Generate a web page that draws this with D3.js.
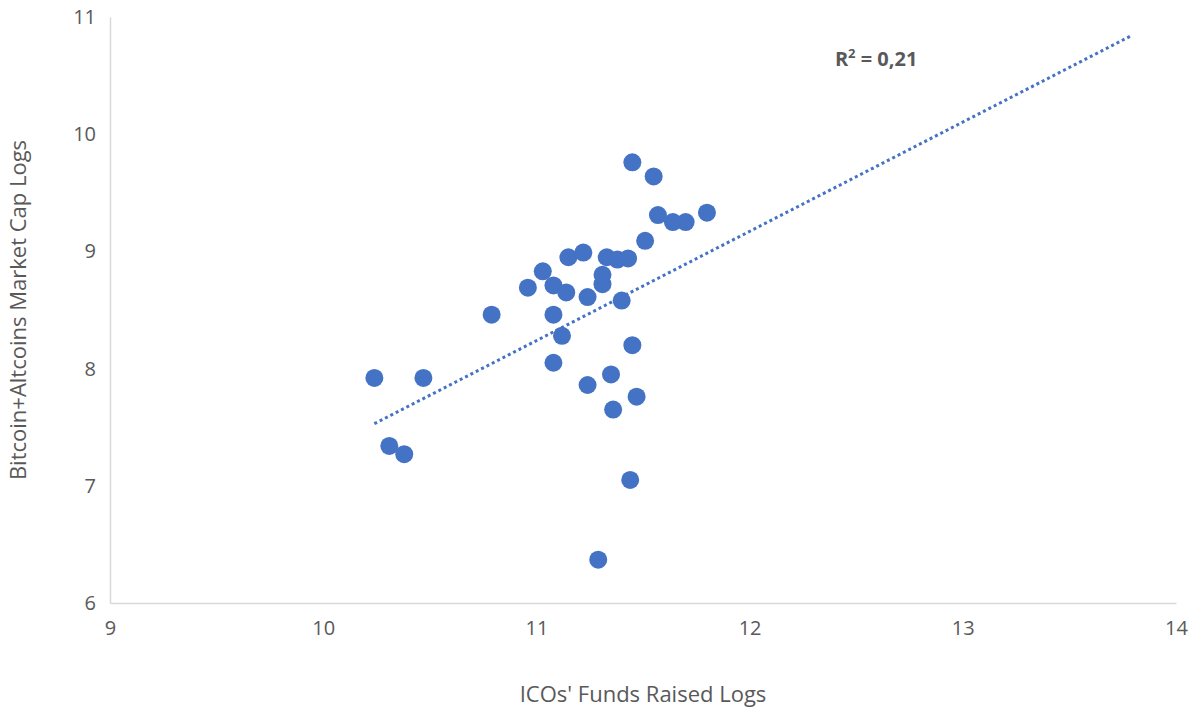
<!DOCTYPE html>
<html><head><meta charset="utf-8">
<script src="https://cdn.jsdelivr.net/npm/d3@7"></script>
<style>body{margin:0;background:#fff}text{font-family:"Open Sans",sans-serif;fill:#595959}</style>
</head><body><svg id="chart"></svg>
<script>
var xVals = [10.24,10.47,10.31,10.38,10.79,10.96,11.03,11.08,11.08,11.14,11.12,11.08,11.15,11.22,11.24,11.24,11.31,11.31,11.33,11.38,11.43,11.40,11.35,11.36,11.45,11.47,11.44,11.29,11.45,11.55,11.51,11.57,11.64,11.70,11.80];
var yVals = [7.92,7.92,7.34,7.27,8.46,8.69,8.83,8.71,8.46,8.65,8.28,8.05,8.95,8.99,8.61,7.86,8.72,8.80,8.95,8.93,8.94,8.58,7.95,7.65,8.20,7.76,7.05,6.37,9.76,9.64,9.09,9.31,9.25,9.25,9.33];
var trendX = [10.24, 13.79];
var trendY = [7.53, 10.84];
var xTicks = [9,10,11,12,13,14];
var yTicks = [6,7,8,9,10,11];

var svgWidth = 1200, svgHeight = 719;
var margin = {top: 17, right: 24, bottom: 116, left: 110};
var chartWidth = svgWidth - margin.left - margin.right;
var chartHeight = svgHeight - margin.top - margin.bottom;

var svg = d3.select("#chart").attr("width", svgWidth).attr("height", svgHeight);
var g = svg.append("g").attr("transform", `translate(${margin.left},${margin.top})`);

var x = d3.scaleLinear().domain([9, 14]).range([0, chartWidth]);
var y = d3.scaleLinear().domain([6, 11]).range([chartHeight, 0]);

var xAxis = g.append("g").attr("transform", `translate(0,${chartHeight})`)
    .call(d3.axisBottom(x).tickValues(xTicks).tickFormat(d3.format("d")).tickSize(0).tickPadding(18));
var yAxis = g.append("g").call(d3.axisLeft(y).tickValues(yTicks).tickFormat(d3.format("d")).tickSize(0).tickPadding(14));
[xAxis, yAxis].forEach(function(a) {
    a.select(".domain").attr("stroke", "#d9d9d9").attr("stroke-width", 1.5);
    a.selectAll("text").attr("font-size", "20px").style("fill", "#595959");
});

g.append("line")
    .attr("x1", x(trendX[0])).attr("y1", y(trendY[0]))
    .attr("x2", x(trendX[1])).attr("y2", y(trendY[1]))
    .attr("stroke", "#4472c4").attr("stroke-width", 3).attr("stroke-dasharray", "3,3");

g.selectAll("circle").data(xVals).enter().append("circle")
    .attr("cx", function(d) { return x(d); })
    .attr("cy", function(d, i) { return y(yVals[i]); })
    .attr("r", 9).attr("fill", "#4472c4");

g.append("text").attr("x", x(12.4)).attr("y", y(10.58))
    .attr("font-size", "20px").attr("font-weight", "bold")
    .html('R<tspan dy="-8" font-size="13px">2</tspan><tspan dy="8"> = 0,21</tspan>');

svg.append("text").attr("x", margin.left + chartWidth / 2).attr("y", 702)
    .attr("text-anchor", "middle").attr("font-size", "22px").text("ICOs' Funds Raised Logs");
svg.append("text").attr("transform", `translate(26,${margin.top + chartHeight / 2}) rotate(-90)`)
    .attr("text-anchor", "middle").attr("font-size", "22px").text("Bitcoin+Altcoins Market Cap Logs");
</script></body></html>
